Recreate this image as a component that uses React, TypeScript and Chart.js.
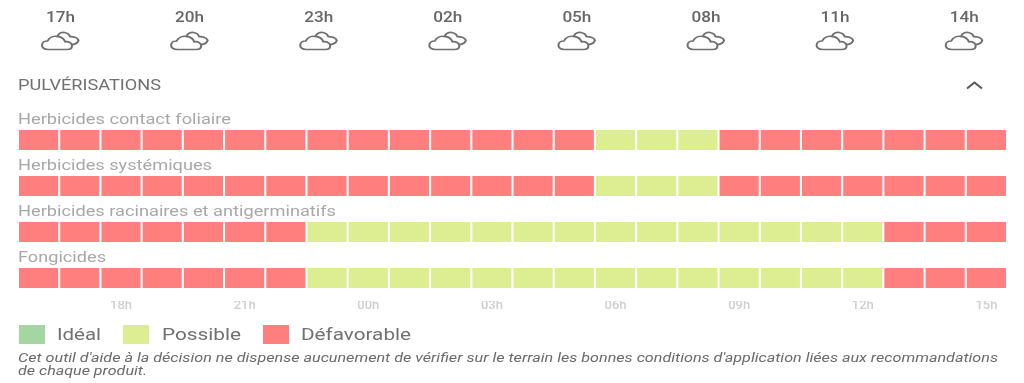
import React, { useEffect, useRef } from "react";
import { Chart, registerables } from "chart.js";

Chart.register(...registerables);

const forecastHours = ["17h", "20h", "23h", "02h", "05h", "08h", "11h", "14h"];
const hours = ["16h","17h","18h","19h","20h","21h","22h","23h","00h","01h","02h","03h","04h","05h","06h","07h","08h","09h","10h","11h","12h","13h","14h","15h"];
const rowNames = ["Herbicides contact foliaire", "Herbicides systémiques", "Herbicides racinaires et antigerminatifs", "Fongicides"];
const D = "D", P = "P";
const contactFoliaire = [D,D,D,D,D,D,D,D,D,D,D,D,D,D,P,P,P,D,D,D,D,D,D,D];
const systemiques = [D,D,D,D,D,D,D,D,D,D,D,D,D,D,P,P,P,D,D,D,D,D,D,D];
const racinaires = [D,D,D,D,D,D,D,P,P,P,P,P,P,P,P,P,P,P,P,P,P,D,D,D];
const fongicides = [D,D,D,D,D,D,D,P,P,P,P,P,P,P,P,P,P,P,P,P,P,D,D,D];
const rows = [contactFoliaire, systemiques, racinaires, fongicides];
const colors: Record<string, string> = { I: "#a3d6a0", P: "#dded92", D: "#ff7f7f" };
const legendItems = [
  { label: "Idéal", key: "I", box: 19, text: 57, w: 44 },
  { label: "Possible", key: "P", box: 123, text: 162, w: 79 },
  { label: "Défavorable", key: "D", box: 263, text: 301, w: 110 },
];

function Txt({ x, y, w, size, color, weight, italic, anchor, children }: any) {
  return (
    <text x={x} y={y} textLength={w} lengthAdjust="spacingAndGlyphs" textAnchor={anchor || "start"}
      fontFamily="Roboto" fontSize={size} fill={color} fontWeight={weight || 400} fontStyle={italic ? "italic" : "normal"}>
      {children}
    </text>
  );
}

function Cloud({ x, y }: { x: number; y: number }) {
  return (
    <g transform={`translate(${x},${y}) scale(1.2,1)`} fill="none" stroke="#6f6f6f" strokeWidth="1.7" strokeLinejoin="round" strokeLinecap="round">
      <path d="M5 17.5 C1.5 17.5 0 15.3 0 13.3 C0 10.8 2 9 4.6 9 C6 5.6 9.4 4 12.3 4.3 C16 4.6 18.6 7 19.3 9.8 C22 9.3 25 10.6 25 13.7 C25 16 23.4 17.5 21 17.5 Z" />
      <path d="M13 3.8 C14 1.2 16.5 0 18.8 0.5 C21.2 1 22.8 2.5 23.3 4.6 C25.5 4.3 29.5 5.5 30.5 8.3 C29.8 11 27.5 12.3 25 12.6" />
    </g>
  );
}

export default function App() {
  const ref = useRef<HTMLCanvasElement>(null);
  useEffect(() => {
    const chart = new Chart(ref.current!, {
      type: "bar",
      data: {
        labels: hours,
        datasets: rows.map((row, r) => ({
          label: rowNames[r],
          data: row.map(() => [r - 0.217, r + 0.217]) as any,
          backgroundColor: row.map((s) => colors[s]),
          barPercentage: 1,
          categoryPercentage: 0.95,
          grouped: false,
        })),
      },
      options: {
        animation: false,
        responsive: false,
        layout: { padding: { left: 18, right: 17, top: 117, bottom: 62 } },
        plugins: { legend: { display: false }, tooltip: { enabled: false } },
        scales: {
          x: {
            grid: { display: false, drawTicks: false },
            border: { display: false },
            afterFit: (s: any) => { s.height = 20; },
            ticks: {
              autoSkip: false,
              maxRotation: 0,
              padding: -3,
              color: "#cfcfcf",
              font: { family: "Roboto", size: 13, weight: 500 },
              callback: (_v: any, i: number) => (i % 3 === 2 ? hours[i] : ""),
            },
          },
          y: { display: false, min: -0.5, max: 3.5, reverse: true },
        },
      },
    });
    return () => chart.destroy();
  }, []);

  return (
    <div style={{ position: "absolute", left: 0, top: 0, width: 1024, height: 383, overflow: "hidden", background: "#fff", filter: "blur(0.4px)" }}>
      <canvas ref={ref} width={1024} height={383} style={{ position: "absolute", left: 0, top: 0 }} />
      <svg width={1024} height={383} style={{ position: "absolute", left: 0, top: 0 }}>
        {forecastHours.map((h, i) => (
          <g key={h}>
            <Txt x={46 + i * 129.1} y={22} w={29} size={14} color="#666" weight={500}>{h}</Txt>
            <Cloud x={42 + i * 129.1} y={32} />
          </g>
        ))}
        <Txt x={18} y={90} w={143} size={14} color="#707070">PULVÉRISATIONS</Txt>
        <path d="M967 88.5 L974.5 82.5 L982 88.5" fill="none" stroke="#555" strokeWidth="2" />
        {rowNames.map((n, i) => (
          <Txt key={n} x={18} y={124 + i * 46} w={[213, 194, 318, 88][i]} size={15} color="#a8a8a8">{n}</Txt>
        ))}
        {legendItems.map((l) => (
          <g key={l.key}>
            <rect x={l.box} y={325} width={26} height={19} fill={colors[l.key]} />
            <Txt x={l.text} y={340} w={l.w} size={16} color="#707070">{l.label}</Txt>
          </g>
        ))}
        <Txt x={18} y={362} w={980} size={12} color="#6a6a6a" italic>
          Cet outil d'aide à la décision ne dispense aucunement de vérifier sur le terrain les bonnes conditions d'application liées aux recommandations
        </Txt>
        <Txt x={18} y={375} w={129} size={12} color="#6a6a6a" italic>de chaque produit.</Txt>
      </svg>
    </div>
  );
}
